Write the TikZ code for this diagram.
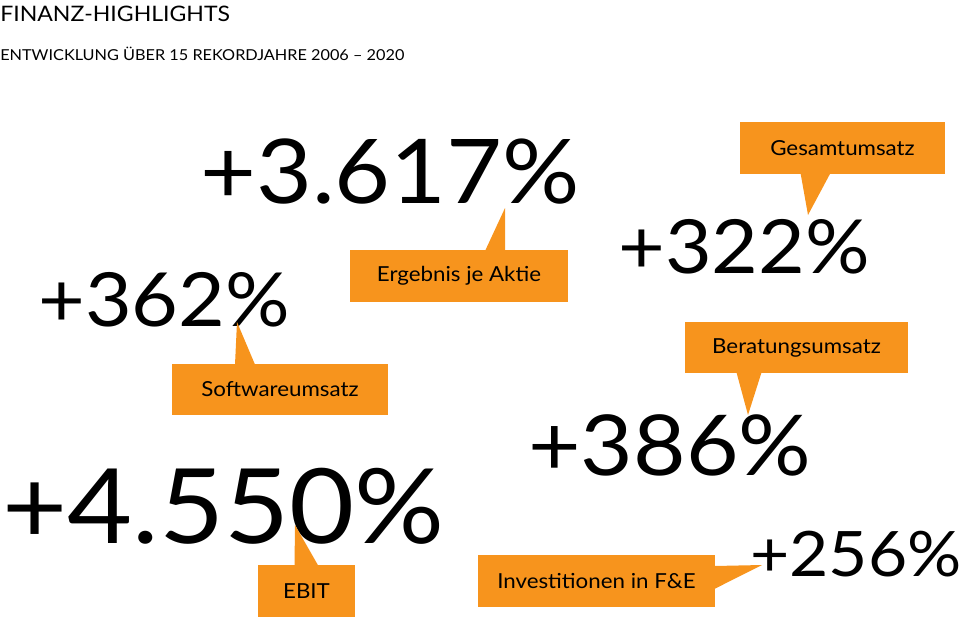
\documentclass[tikz,border=0pt]{standalone}
\usepackage{fontspec}
\setmainfont{Lato}[FakeStretch=1.08]
\usetikzlibrary{positioning,calc}
\definecolor{hlorange}{HTML}{F7941D}
\begin{document}
\begin{tikzpicture}[x=0.75pt,y=-0.75pt]
  \tikzstyle{tag}=[fill=hlorange,inner sep=0pt,minimum height=38.5pt,font=\fontsize{15.5}{18}\selectfont]
  \tikzstyle{big}=[inner sep=0pt,anchor=base west]
  \useasboundingbox (0,0) rectangle (970,618);
  % titles
  \node [anchor=base west,inner sep=0pt,font=\fontsize{16}{18}\selectfont] (title) at (0,21) {FINANZ-HIGHLIGHTS};
  \node [anchor=base west,inner sep=0pt,font=\fontsize{11.3}{12}\selectfont] (sub) at (0,60) {ENTWICKLUNG ÜBER 15 REKORDJAHRE 2006 – 2020};
  % figures
  \node [big,font=\fontsize{67}{70}\selectfont] (eps) at (200,203) {+3.617\%};
  \node [big,font=\fontsize{56}{60}\selectfont] (rev) at (618,273) {+322\%};
  \node [big,font=\fontsize{56}{60}\selectfont] (sw) at (38,326) {+362\%};
  \node [big,font=\fontsize{63}{66}\selectfont] (con) at (528,475) {+386\%};
  \node [big,font=\fontsize{78}{80}\selectfont] (ebit) at (2,543) {+4.550\%};
  \node [big,font=\fontsize{47}{50}\selectfont] (rd) at (750,576) {+256\%};
  % tags
  \node [tag,minimum width=163.5pt] (teps) at (459,276) {Ergebnis je Aktie};
  \node [tag,minimum width=153.75pt] (trev) at (842.5,148) {Gesamtumsatz};
  \node [tag,minimum width=162pt] (tsw) at (280,389.5) {Softwareumsatz};
  \node [tag,minimum width=167.25pt] (tcon) at (796.5,347.5) {Beratungsumsatz};
  \node [tag,minimum width=72.75pt] (tebit) at (306.5,591) {EBIT};
  \node [tag,minimum width=177.75pt] (trd) at (596.5,581) {Investitionen in F\&E};
  % pointers
  \coordinate (peps) at (505,208);
  \coordinate (prev) at (808,215);
  \coordinate (psw) at (237,322);
  \coordinate (pcon) at (748,415);
  \coordinate (pebit) at (295,525);
  \coordinate (prd) at (762,565);
  \fill [hlorange] ($(teps.north)+(26,1)$) -- (peps) -- ($(teps.north)+(46,1)$) -- cycle;
  \fill [hlorange] ($(trev.south)+(-42,-1)$) -- (prev) -- ($(trev.south)+(-12,-1)$) -- cycle;
  \fill [hlorange] ($(tsw.north)+(-45,1)$) -- (psw) -- ($(tsw.north)+(-25,1)$) -- cycle;
  \fill [hlorange] ($(tcon.south)+(-60,-1)$) -- (pcon) -- ($(tcon.south)+(-35,-1)$) -- cycle;
  \fill [hlorange] ($(tebit.north)+(-12,1)$) -- (pebit) -- ($(tebit.north)+(12,1)$) -- cycle;
  \fill [hlorange] ($(trd.east)+(-1,-15)$) -- (prd) -- ($(trd.east)+(-1,8)$) -- cycle;
\end{tikzpicture}
\end{document}
